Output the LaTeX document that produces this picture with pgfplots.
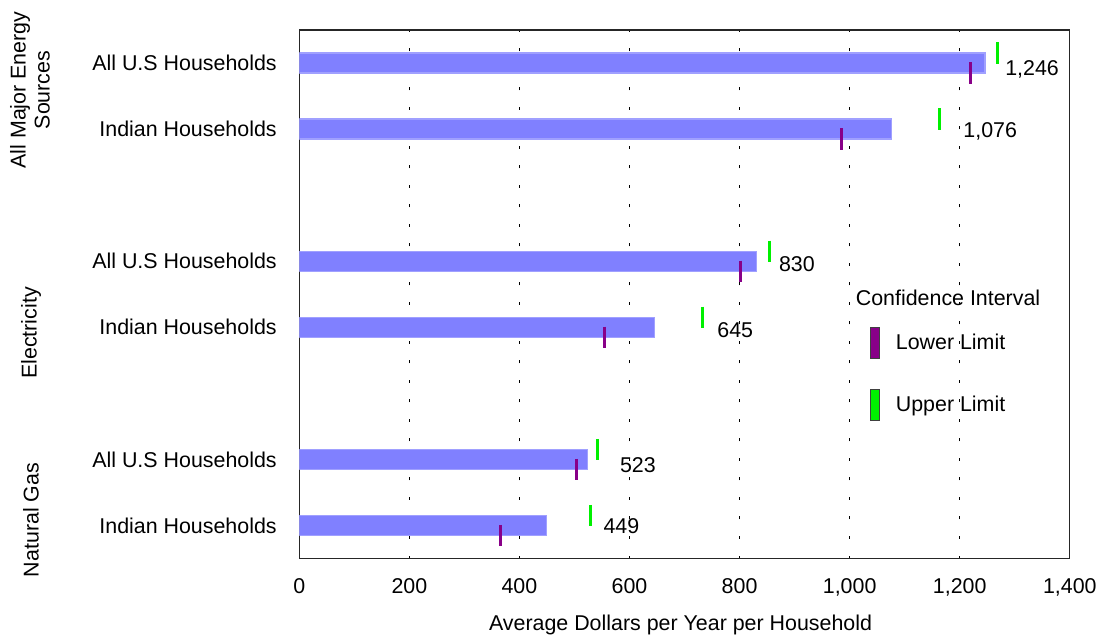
\documentclass[border=0pt]{standalone}
\usepackage{fontspec}
\setmainfont{Liberation Sans}
\usepackage{pgfplots}
\pgfplotsset{compat=1.18}
\definecolor{barc}{RGB}{128,128,255}
\definecolor{baredge}{RGB}{160,160,255}
\definecolor{lowc}{RGB}{136,0,136}
\definecolor{upc}{RGB}{0,240,0}
\newcommand\cf{\fontsize{10.7bp}{12bp}\selectfont}
\begin{document}
\begin{tikzpicture}[font=\cf]
\useasboundingbox (0,0) rectangle (551bp,318.5bp);
\begin{axis}[
  at={(149.65bp,39.25bp)}, anchor=south west,
  scale only axis, width=385.25bp, height=264.25bp,
  xmin=0, xmax=1400, ymin=-0.5, ymax=7.5,
  xtick={0,200,...,1400},
  ytick={0,1,3,4,6,7},
  yticklabels={Indian Households, All U.S Households, Indian Households, All U.S Households, Indian Households, All U.S Households},
  major tick length=0pt,
  axis line style={black!85, line width=0.6bp},
  xmajorgrids, ymajorgrids=false,
  grid style={black, line width=0.5bp, dash pattern=on 1.5bp off 8.25bp},
  /pgf/number format/.cd, 1000 sep={,}, assume math mode=true, /pgfplots/.cd,
  tick label style={font=\cf},
  xticklabel style={anchor=north, inner sep=0pt, yshift=-10bp},
  yticklabel style={anchor=east, inner sep=0pt, xshift=-11.1bp},
  xlabel={Average Dollars per Year per Household},
  xlabel style={at={(axis description cs:0.5,0)}, anchor=north, inner sep=0pt, yshift=-28.25bp, xshift=-2bp, font=\cf},
  legend style={draw=none, fill=none, font=\cf, at={(axis cs:1036.7,3.561)}, anchor=north west,
    inner sep=0pt, outer sep=0pt, row sep=3.5bp, column sep=-12bp, nodes={inner sep=0pt}},
  legend cell align=left,
]
\addplot[xbar, bar width=10bp, fill=barc, draw=baredge, line width=0.6bp, forget plot]
  coordinates {(1246,7) (1076,6) (830,4) (645,3) (523,1) (449,0)};
\addplot[only marks, mark=|, mark size=5.3bp, color=lowc, line width=1.5bp, mark options={yshift=-5bp}, forget plot]
  coordinates {(1220,7) (986,6) (802,4) (555,3) (503,1) (366,0)};
\addplot[only marks, mark=|, mark size=5.3bp, color=upc, line width=1.5bp, mark options={yshift=5bp}, forget plot]
  coordinates {(1268,7) (1164,6) (855,4) (733,3) (542,1) (530,0)};
\node[anchor=west, inner sep=0pt] at (axis cs:1282,6.91) {1,246};
\node[anchor=west, inner sep=0pt] at (axis cs:1206,5.96) {1,076};
\node[anchor=west, inner sep=0pt] at (axis cs:871,3.96) {830};
\node[anchor=west, inner sep=0pt] at (axis cs:759,2.95) {645};
\node[anchor=west, inner sep=0pt] at (axis cs:582,0.92) {523};
\node[anchor=west, inner sep=0pt] at (axis cs:552,-0.015) {449};
\addlegendimage{empty legend}
\addlegendentry[xshift=-20bp]{Confidence Interval}
\addlegendimage{legend image code/.code={\path[draw=none, fill=none] (0bp,-13.75bp) rectangle (4.5bp,13.75bp); \draw[fill=lowc, draw=black!75, line width=0.5bp] (0bp,-7.75bp) rectangle (4.5bp,7.75bp);}}
\addlegendentry{Lower Limit}
\addlegendimage{legend image code/.code={\path[draw=none, fill=none] (0bp,-13.75bp) rectangle (4.5bp,13.75bp); \draw[fill=upc, draw=black!75, line width=0.5bp] (0bp,-7.75bp) rectangle (4.5bp,7.75bp);}}
\addlegendentry{Upper Limit}
\end{axis}
\node[rotate=90, align=center, inner sep=0pt] at (15bp,273.5bp) {All Major Energy\\Sources};
\node[rotate=90, inner sep=0pt] at (15.5bp,152bp) {Electricity};
\node[rotate=90, inner sep=0pt] at (15.5bp,58.5bp) {Natural Gas};
\end{tikzpicture}
\end{document}
